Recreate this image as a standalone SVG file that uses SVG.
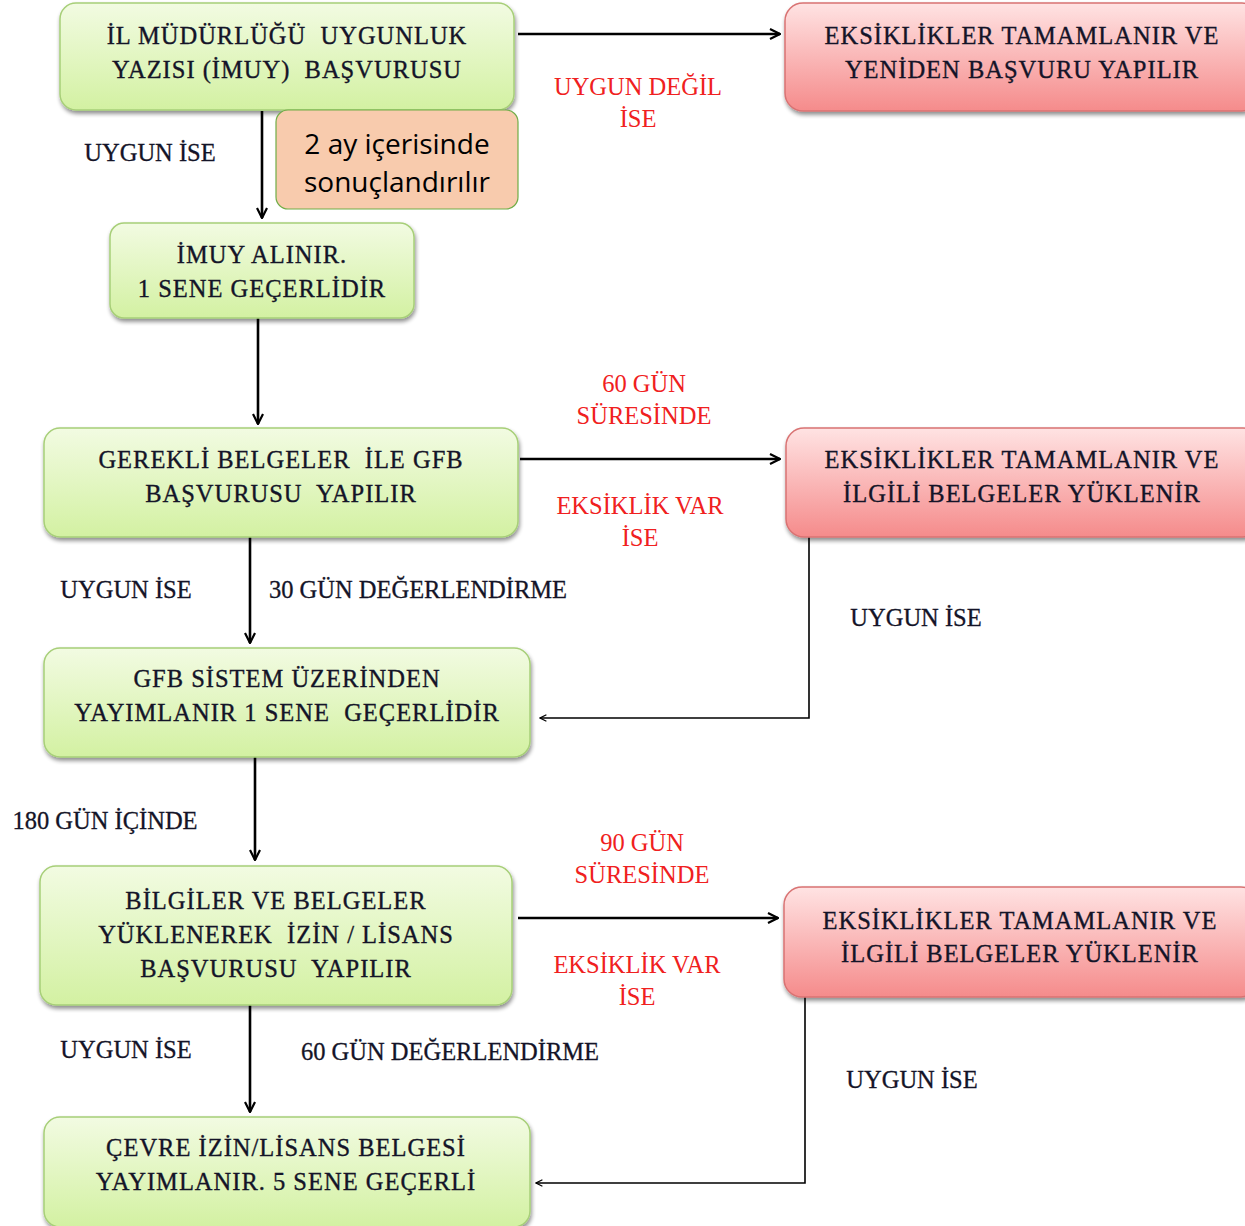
<svg xmlns="http://www.w3.org/2000/svg" width="1245" height="1226" viewBox="0 0 1245 1226">
<defs>
<linearGradient id="gg" x1="0" y1="0" x2="0" y2="1"><stop offset="0" stop-color="#f2fbe2"/><stop offset="1" stop-color="#d3f1a2"/></linearGradient>
<linearGradient id="rg" x1="0" y1="0" x2="0" y2="1"><stop offset="0" stop-color="#ffe3e3"/><stop offset="1" stop-color="#f58b8b"/></linearGradient>
<filter id="sh" x="-5%" y="-5%" width="110%" height="120%"><feGaussianBlur in="SourceAlpha" stdDeviation="2"/><feOffset dx="1" dy="3"/><feComponentTransfer><feFuncA type="linear" slope="0.45"/></feComponentTransfer><feMerge><feMergeNode/><feMergeNode in="SourceGraphic"/></feMerge></filter>
<marker id="ah" viewBox="0 0 12 12" refX="11" refY="6" markerWidth="12" markerHeight="12" markerUnits="userSpaceOnUse" orient="auto"><path d="M1,1 L11,6 L1,11" fill="none" stroke="#000" stroke-width="2.2"/></marker>
<marker id="as" viewBox="0 0 10 10" refX="9" refY="5" markerWidth="8" markerHeight="8" markerUnits="userSpaceOnUse" orient="auto"><path d="M1,1 L9,5 L1,9" fill="none" stroke="#000" stroke-width="1.5"/></marker>
</defs>
<style>
.g{fill:url(#gg);stroke:#a7cf78;stroke-width:1.5;filter:url(#sh)}
.r{fill:url(#rg);stroke:#d97373;stroke-width:1.5;filter:url(#sh)}
.o{fill:#f8cbad;stroke:#70ad47;stroke-width:1.2}
text{white-space:pre}
.t{font-family:"Liberation Serif",serif;font-size:24.5px;letter-spacing:1px;fill:#141428;stroke:#141428;stroke-width:0.35;text-anchor:middle}
.l{font-family:"Liberation Serif",serif;font-size:24.5px;fill:#141428;stroke:#141428;stroke-width:0.3;text-anchor:middle}
.rl{font-family:"Liberation Serif",serif;font-size:24.5px;fill:#f02020;text-anchor:middle}
.s{font-family:"Open Sans","Liberation Sans",sans-serif;font-size:28px;fill:#000;text-anchor:middle}
.c{fill:none;stroke:#000;stroke-width:2.6}
.c2{fill:none;stroke:#000;stroke-width:1.6}
</style>
<g id="connectors">
<line class="c" x1="518" y1="34" x2="780" y2="34" marker-end="url(#ah)"/>
<line class="c" x1="262" y1="111" x2="262" y2="218" marker-end="url(#ah)"/>
<line class="c" x1="258" y1="318" x2="258" y2="424" marker-end="url(#ah)"/>
<line class="c" x1="520" y1="459" x2="780" y2="459" marker-end="url(#ah)"/>
<line class="c" x1="250" y1="537" x2="250" y2="643" marker-end="url(#ah)"/>
<polyline class="c2" points="809,537 809,718 540,718" marker-end="url(#as)"/>
<line class="c" x1="255" y1="757" x2="255" y2="860" marker-end="url(#ah)"/>
<line class="c" x1="518" y1="918" x2="778" y2="918" marker-end="url(#ah)"/>
<line class="c" x1="250" y1="1005" x2="250" y2="1112" marker-end="url(#ah)"/>
<polyline class="c2" points="805,997 805,1183 536,1183" marker-end="url(#as)"/>
</g>
<g id="n1"><rect class="g" x="60" y="3" width="454" height="107" rx="16"/><text class="t" x="287" y="44">İL MÜDÜRLÜĞÜ  UYGUNLUK</text><text class="t" x="287" y="78">YAZISI (İMUY)  BAŞVURUSU</text></g>
<g id="n2"><rect class="r" x="785" y="3" width="475" height="108" rx="18"/><text class="t" x="1022" y="44">EKSİKLİKLER TAMAMLANIR VE</text><text class="t" x="1022" y="78">YENİDEN BAŞVURU YAPILIR</text></g>
<g id="n3"><rect class="o" x="276" y="110" width="242" height="99" rx="12"/><text class="s" x="397" y="154">2 ay içerisinde</text><text class="s" x="397" y="192">sonuçlandırılır</text></g>
<g id="n4"><rect class="g" x="110" y="223" width="304" height="95" rx="14"/><text class="t" x="262" y="263">İMUY ALINIR.</text><text class="t" x="262" y="297">1 SENE GEÇERLİDİR</text></g>
<g id="n5"><rect class="g" x="44" y="428" width="474" height="109" rx="16"/><text class="t" x="281" y="468">GEREKLİ BELGELER  İLE GFB</text><text class="t" x="281" y="502">BAŞVURUSU  YAPILIR</text></g>
<g id="n6"><rect class="r" x="786" y="428" width="475" height="109" rx="18"/><text class="t" x="1022" y="468">EKSİKLİKLER TAMAMLANIR VE</text><text class="t" x="1022" y="502">İLGİLİ BELGELER YÜKLENİR</text></g>
<g id="n7"><rect class="g" x="44" y="648" width="486" height="109" rx="16"/><text class="t" x="287" y="687">GFB SİSTEM ÜZERİNDEN</text><text class="t" x="287" y="721">YAYIMLANIR 1 SENE  GEÇERLİDİR</text></g>
<g id="n8"><rect class="g" x="40" y="866" width="472" height="139" rx="16"/><text class="t" x="276" y="909">BİLGİLER VE BELGELER</text><text class="t" x="276" y="943">YÜKLENEREK  İZİN / LİSANS</text><text class="t" x="276" y="977">BAŞVURUSU  YAPILIR</text></g>
<g id="n9"><rect class="r" x="784" y="887" width="475" height="110" rx="18"/><text class="t" x="1020" y="929">EKSİKLİKLER TAMAMLANIR VE</text><text class="t" x="1020" y="962">İLGİLİ BELGELER YÜKLENİR</text></g>
<g id="n10"><rect class="g" x="44" y="1117" width="486" height="110" rx="16"/><text class="t" x="286" y="1156">ÇEVRE İZİN/LİSANS BELGESİ</text><text class="t" x="286" y="1190">YAYIMLANIR. 5 SENE GEÇERLİ</text></g>
<g id="labels">
<text class="rl" x="638" y="95">UYGUN DEĞİL</text><text class="rl" x="638" y="127">İSE</text>
<text class="l" x="150" y="161">UYGUN İSE</text>
<text class="rl" x="644" y="392">60 GÜN</text><text class="rl" x="644" y="424">SÜRESİNDE</text>
<text class="rl" x="640" y="514">EKSİKLİK VAR</text><text class="rl" x="640" y="546">İSE</text>
<text class="l" x="126" y="598">UYGUN İSE</text>
<text class="l" x="418" y="598">30 GÜN DEĞERLENDİRME</text>
<text class="l" x="916" y="626">UYGUN İSE</text>
<text class="l" x="105" y="829">180 GÜN İÇİNDE</text>
<text class="rl" x="642" y="851">90 GÜN</text><text class="rl" x="642" y="883">SÜRESİNDE</text>
<text class="rl" x="637" y="973">EKSİKLİK VAR</text><text class="rl" x="637" y="1005">İSE</text>
<text class="l" x="126" y="1058">UYGUN İSE</text>
<text class="l" x="450" y="1060">60 GÜN DEĞERLENDİRME</text>
<text class="l" x="912" y="1088">UYGUN İSE</text>
</g>
</svg>
